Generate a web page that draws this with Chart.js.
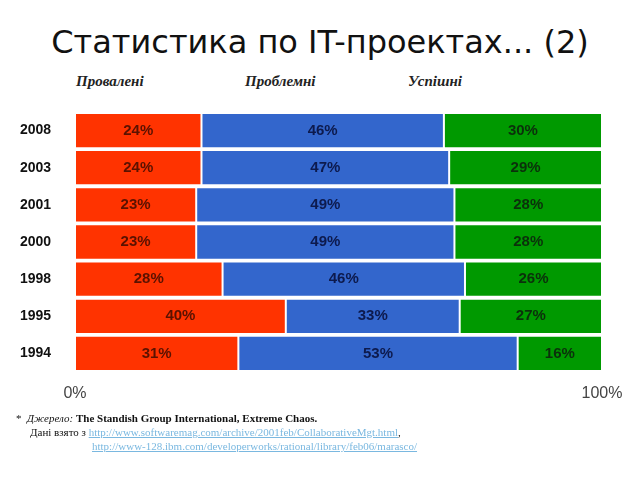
<!DOCTYPE html>
<html>
<head>
<meta charset="utf-8">
<script src="https://cdn.jsdelivr.net/npm/chart.js@4"></script>
<style>
  body { margin: 0; background: #fff; }
  #wrap { position: relative; width: 640px; height: 480px; overflow: hidden; }
  #chart { position: absolute; left: 0; top: 0; }
  .title { position: absolute; left: 0; width: 640px; top: 23px; text-align: center;
           font-family: "DejaVu Sans", sans-serif; font-size: 32px; color: #111; }
  .leg { position: absolute; top: 73px; font-family: "Liberation Serif", serif;
         font-style: italic; font-weight: bold; font-size: 15px; color: #222; }
  .note { position: absolute; left: 16px; top: 411px; font-family: "Liberation Serif", serif;
          font-size: 11px; line-height: 14px; color: #111; }
  .note a { color: #7ab8e0; text-decoration: underline; }
</style>
</head>
<body>
<div id="wrap">
  <div class="title">Статистика по IT-проектах... (2)</div>
  <div class="leg" style="left:76px">Провалені</div>
  <div class="leg" style="left:245px">Проблемні</div>
  <div class="leg" style="left:408px">Успішні</div>
  <canvas id="chart" width="640" height="480"></canvas>
  <div class="note">
    *&nbsp;&nbsp;<i>Джерело:</i> <b>The Standish Group International, Extreme Chaos.</b><br>
    <span style="padding-left:14px">Дані взято з <a>http://www.softwaremag.com/archive/2001feb/CollaborativeMgt.html</a>,</span><br>
    <span style="padding-left:76px"><a>http://www-128.ibm.com/developerworks/rational/library/feb06/marasco/</a></span>
  </div>
</div>
<script>
const years = ['2008', '2003', '2001', '2000', '1998', '1995', '1994'];
const failed = [24, 24, 23, 23, 28, 40, 31];
const challenged = [46, 47, 49, 49, 46, 33, 53];
const succeeded = [30, 29, 28, 28, 26, 27, 16];
const seriesNames = ['Провалені', 'Проблемні', 'Успішні'];

// percent labels inside each segment
const segmentLabels = {
    id: 'segmentLabels',
    afterDatasetsDraw(chart) {
        const ctx = chart.ctx;
        ctx.save();
        ctx.font = 'bold 15px "Liberation Sans", Arial, sans-serif';
        ctx.textAlign = 'center';
        ctx.textBaseline = 'middle';
        chart.data.datasets.forEach((ds, i) => {
            ctx.fillStyle = ds.labelColor;
            chart.getDatasetMeta(i).data.forEach((bar, j) => {
                const cx = (bar.x + bar.base) / 2;
                ctx.fillText(ds.data[j] + '%', cx, bar.y);
            });
        });
        ctx.restore();
    }
};

new Chart(document.getElementById('chart'), {
    type: 'bar',
    data: {
        labels: years,
        datasets: [
            { label: seriesNames[0], data: failed, backgroundColor: '#ff3300', labelColor: '#5a1200' },
            { label: seriesNames[1], data: challenged, backgroundColor: '#3366cc', labelColor: '#0d1a4d' },
            { label: seriesNames[2], data: succeeded, backgroundColor: '#009900', labelColor: '#0b300b' }
        ]
    },
    plugins: [segmentLabels],
    options: {
        indexAxis: 'y',
        responsive: false,
        animation: false,
        datasets: {
            bar: {
                barPercentage: 0.95,
                categoryPercentage: 1,
                borderWidth: 1,
                borderColor: 'rgba(255,255,255,0.85)',
                borderSkipped: false
            }
        },
        layout: { padding: { left: 20, right: 38, top: 112, bottom: 78 } },
        plugins: {
            legend: { display: false },
            tooltip: { enabled: false }
        },
        scales: {
            x: {
                stacked: true,
                min: 0,
                max: 100,
                grid: { display: false, drawTicks: false },
                border: { display: false },
                afterFit(scale) { scale.height = 30; },
                ticks: {
                    stepSize: 100,
                    padding: 12,
                    color: '#444',
                    font: { family: '"Liberation Sans", Arial, sans-serif', size: 16 },
                    callback: v => v + '%'
                }
            },
            y: {
                stacked: true,
                grid: { display: false, drawTicks: false },
                border: { display: false },
                afterFit(scale) { scale.width = 55; },
                ticks: {
                    crossAlign: 'far',
                    color: '#111',
                    font: { family: '"Liberation Sans", Arial, sans-serif', size: 14, weight: 'bold' }
                }
            }
        }
    }
});
</script>
</body>
</html>
